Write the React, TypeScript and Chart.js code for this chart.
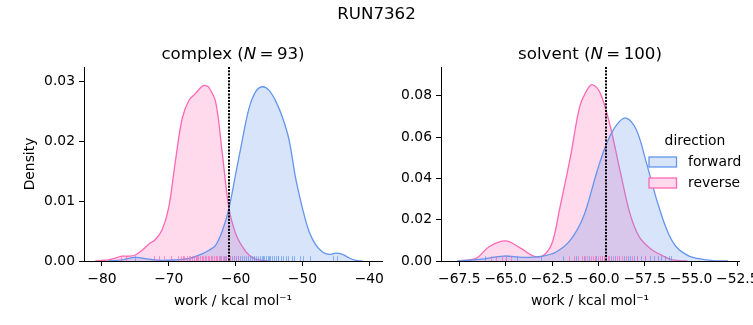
import React, { useEffect, useRef } from "react";
import { Chart, registerables } from "chart.js";

Chart.register(...registerables);

const FONT = "'DejaVu Sans', sans-serif";
const SUPTITLE = "RUN7362";
const X_LABEL = "work / kcal mol\u207B\u00B9";
const Y_LABEL = "Density";
const LEGEND_TITLE = "direction";
const DIRECTIONS = ["forward", "reverse"];
const LINE_COLORS = ["#6495ED", "#FF69B4"];
const FILL_COLORS = ["rgba(100,149,237,0.25)", "rgba(255,105,180,0.25)"];
const RUG_COLORS = ["rgba(100,149,237,0.7)", "rgba(255,105,180,0.7)"];

// ---------- complex panel ----------
const complexName = "complex";
const complexN = 93;
const complexFwdX = [-79, -77, -75, -73, -71, -69, -67, -65, -64, -63, -62, -61, -60, -59, -58, -57, -56, -55, -54, -53, -52, -51, -50, -49, -48, -47, -46, -45, -44, -43, -42, -41];
const complexFwdY = [0, 0.0002, 0.0006, 0.0003, 0.0001, 0.0002, 0.0004, 0.0012, 0.0018, 0.0026, 0.005, 0.0088, 0.0145, 0.0202, 0.0255, 0.0283, 0.0291, 0.0285, 0.0267, 0.024, 0.0202, 0.0137, 0.0088, 0.0049, 0.0027, 0.0015, 0.0011, 0.0013, 0.0011, 0.0005, 0.0001, 0];
const complexRevX = [-81, -80, -79, -78, -77, -76, -75, -74, -73, -72, -71, -70, -69, -68, -67, -66, -65, -64.5, -64, -63, -62, -61, -60, -59, -58, -57, -56, -55];
const complexRevY = [0, 0.0001, 0.0002, 0.0005, 0.0008, 0.0008, 0.001, 0.0018, 0.0028, 0.0036, 0.0052, 0.009, 0.0168, 0.0238, 0.0268, 0.028, 0.0292, 0.0293, 0.029, 0.0266, 0.018, 0.0088, 0.0046, 0.0024, 0.001, 0.0003, 0.0001, 0];
const complexFwdRug = [-75.1, -62.4, -61.8, -61.5, -60.9, -60.6, -60.2, -59.9, -59.7, -59.3, -59.0, -58.8, -58.4, -58.1, -57.9, -57.6, -57.3, -57.2, -56.9, -56.7, -56.4, -56.1, -55.9, -55.8, -55.5, -55.2, -55.0, -54.8, -54.5, -54.3, -54.0, -53.7, -53.6, -53.2, -52.9, -52.5, -52.1, -51.6, -51.2, -50.4, -49.9, -48.8, -45.4, -44.9];
const complexRevRug = [-77.2, -76.4, -72.2, -71.5, -70.7, -69.6, -68.6, -68.2, -67.9, -67.7, -67.3, -67.0, -66.8, -66.5, -66.3, -66.0, -65.8, -65.6, -65.3, -65.1, -64.9, -64.6, -64.4, -64.2, -64.0, -63.7, -63.5, -63.3, -63.0, -62.8, -62.5, -62.2, -61.9, -61.6, -61.4, -61.1, -60.8, -60.3, -59.6];
const complexDivider = -61.0;
const complexXTicks = [-80, -70, -60, -50, -40];
const complexXTickLabels = ["\u221280", "\u221270", "\u221260", "\u221250", "\u221240"];
const complexYTicks = [0, 0.01, 0.02, 0.03];
const complexYTickLabels = ["0.00", "0.01", "0.02", "0.03"];
const complexXMin = -82.69;
const complexXMax = -38.1;
const complexYMax = 0.0324;

// ---------- solvent panel ----------
const solventName = "solvent";
const solventN = 100;
const solventFwdX = [-67.6, -66.4, -65.1, -64.1, -63.0, -62.25, -61.5, -60.8, -60.1, -59.55, -59.0, -58.5, -57.95, -57.4, -56.85, -56.3, -55.8, -55.1, -54.35, -53.6, -53.0];
const solventFwdY = [0, 0.0008, 0.0024, 0.0018, 0.0024, 0.0045, 0.0102, 0.0215, 0.0425, 0.057, 0.066, 0.0692, 0.0635, 0.0474, 0.0296, 0.015, 0.0069, 0.0024, 0.0008, 0.0001, 0];
const solventRevX = [-67.6, -66.6, -65.9, -65.0, -64.2, -63.5, -63.0, -62.5, -62.1, -61.5, -61.0, -60.55, -60.3, -59.9, -59.4, -58.8, -58.3, -57.8, -57.2, -56.5, -56.0, -55.2];
const solventRevY = [0, 0.0013, 0.0069, 0.0097, 0.0062, 0.0024, 0.0025, 0.0086, 0.0247, 0.0506, 0.0748, 0.0837, 0.0853, 0.0813, 0.0668, 0.0425, 0.0231, 0.0118, 0.0061, 0.0024, 0.0005, 0];
const solventFwdRug = [-66.1, -65.0, -64.4, -63.1, -61.9, -61.2, -60.8, -60.5, -60.1, -59.8, -59.6, -59.3, -59.1, -58.9, -58.6, -58.4, -58.3, -58.1, -57.9, -57.7, -57.5, -57.2, -57.0, -56.8, -56.6, -56.4, -56.2, -56.1];
const solventRevRug = [-65.8, -65.5, -65.2, -65.0, -64.7, -61.6, -61.3, -61.1, -60.9, -60.7, -60.6, -60.4, -60.3, -60.2, -60.0, -59.9, -59.8, -59.7, -59.5, -59.4, -59.2, -59.0, -58.9, -58.7, -58.5, -58.2, -57.9, -57.5];
const solventDivider = -59.6;
const solventXTicks = [-67.5, -65, -62.5, -60, -57.5, -55, -52.5];
const solventXTickLabels = ["\u221267.5", "\u221265.0", "\u221262.5", "\u221260.0", "\u221257.5", "\u221255.0", "\u221252.5"];
const solventYTicks = [0, 0.02, 0.04, 0.06, 0.08];
const solventYTickLabels = ["0.00", "0.02", "0.04", "0.06", "0.08"];
const solventXMin = -68.49;
const solventXMax = -52.41;
const solventYMax = 0.0939;

const toPoints = (xs: number[], ys: number[]) => xs.map((x, i) => ({ x, y: ys[i] }));

const decorPlugin = {
  id: "decor",
  afterDatasetsDraw(chart: any, _args: any, opts: any) {
    const { ctx, chartArea, scales } = chart;
    const { left, right, top, bottom } = chartArea;
    const xs = scales.x;
    const h = (bottom - top) * 0.025;
    ctx.save();
    ctx.beginPath();
    ctx.rect(left, top, right - left, bottom - top);
    ctx.clip();
    ctx.lineWidth = 1;
    (opts.rugs || []).forEach((vals: number[], k: number) => {
      ctx.strokeStyle = RUG_COLORS[k];
      for (const v of vals) {
        const px = Math.round(xs.getPixelForValue(v)) + 0.5;
        ctx.beginPath();
        ctx.moveTo(px, bottom);
        ctx.lineTo(px, bottom - h);
        ctx.stroke();
      }
    });
    ctx.restore();
    // divider
    const dx = Math.round(xs.getPixelForValue(opts.divider));
    ctx.save();
    ctx.strokeStyle = "#000";
    ctx.lineWidth = 2;
    ctx.setLineDash([2, 1.3]);
    ctx.beginPath();
    ctx.moveTo(dx, top);
    ctx.lineTo(dx, bottom);
    ctx.stroke();
    ctx.restore();
  },
  afterDraw(chart: any, _args: any, opts: any) {
    const { ctx, chartArea } = chart;
    const { left, right, top } = chartArea;
    ctx.save();
    ctx.fillStyle = "#000";
    ctx.textBaseline = "alphabetic";
    const size = 16.67;
    const normal = `${size}px ${FONT}`;
    const italic = `italic ${size}px ${FONT}`;
    const parts: [string, string][] = [
      [`${opts.name} (`, normal],
      ["N", italic],
      ["\u2009=\u2009", normal],
      [`${opts.n})`, normal],
    ];
    let total = 0;
    for (const [t, f] of parts) {
      ctx.font = f;
      total += ctx.measureText(t).width;
    }
    let cx = (left + right) / 2 - total / 2;
    const ty = top - 8.5;
    ctx.textAlign = "left";
    for (const [t, f] of parts) {
      ctx.font = f;
      ctx.fillText(t, cx, ty);
      cx += ctx.measureText(t).width;
    }
    if (opts.suptitle) {
      ctx.font = normal;
      ctx.textAlign = "center";
      ctx.fillText(SUPTITLE, 376.5, 19);
    }
    if (opts.legend) {
      const fs = 13.89;
      ctx.font = `${fs}px ${FONT}`;
      ctx.textAlign = "center";
      ctx.textBaseline = "middle";
      const lx = right - 90;
      ctx.fillText(LEGEND_TITLE, lx + 46, 141);
      DIRECTIONS.forEach((d, k) => {
        const cy = 162 + k * 21;
        ctx.fillStyle = "#fff";
        ctx.fillRect(lx, cy - 5, 27.5, 10);
        ctx.fillStyle = FILL_COLORS[k];
        ctx.fillRect(lx, cy - 5, 27.5, 10);
        ctx.strokeStyle = LINE_COLORS[k];
        ctx.lineWidth = 1.3;
        ctx.strokeRect(lx, cy - 5, 27.5, 10);
        ctx.fillStyle = "#000";
        ctx.textAlign = "left";
        ctx.fillText(d, lx + 39, cy);
      });
    }
    ctx.restore();
  },
};

type Panel = {
  name: string;
  n: number;
  fwd: { x: number; y: number }[];
  rev: { x: number; y: number }[];
  rugs: number[][];
  divider: number;
  xTicks: number[];
  xTickLabels: string[];
  yTicks: number[];
  yTickLabels: string[];
  xMin: number;
  xMax: number;
  yMax: number;
  padLeft: number;
  padRight: number;
  yWidth: number;
  yLabel: boolean;
  legend: boolean;
  suptitle: boolean;
};

function makeConfig(p: Panel): any {
  const tickFont = { family: FONT, size: 13.89 };
  const ds = (k: number, data: any) => ({
    label: DIRECTIONS[k],
    data,
    borderColor: LINE_COLORS[k],
    backgroundColor: FILL_COLORS[k],
    fill: "origin",
    borderWidth: 1.3,
    pointRadius: 0,
    tension: 0.35,
  });
  return {
    type: "line",
    data: { datasets: [ds(0, p.fwd), ds(1, p.rev)] },
    options: {
      responsive: false,
      animation: false,
      devicePixelRatio: 1,
      layout: { padding: { left: p.padLeft, right: p.padRight, top: 67, bottom: 0 } },
      plugins: {
        legend: { display: false },
        tooltip: { enabled: false },
        decor: {
          name: p.name,
          n: p.n,
          rugs: p.rugs,
          divider: p.divider,
          legend: p.legend,
          suptitle: p.suptitle,
        },
      },
      scales: {
        x: {
          type: "linear",
          min: p.xMin,
          max: p.xMax,
          afterBuildTicks: (s: any) => {
            s.ticks = p.xTicks.map((v) => ({ value: v }));
          },
          afterFit: (s: any) => {
            s.height = 64;
            s.paddingLeft = 0;
            s.paddingRight = 0;
          },
          grid: { drawOnChartArea: false, drawTicks: true, tickLength: 5, tickWidth: 1, tickColor: "#000" },
          border: { display: true, color: "#000", width: 1 },
          ticks: {
            font: tickFont,
            color: "#000",
            padding: 5,
            maxRotation: 0,
            autoSkip: false,
            callback: (_v: any, i: number) => p.xTickLabels[i],
          },
          title: {
            display: true,
            text: X_LABEL,
            color: "#000",
            font: tickFont,
            padding: { top: 0, bottom: 15.5 },
          },
        },
        y: {
          type: "linear",
          min: 0,
          max: p.yMax,
          afterBuildTicks: (s: any) => {
            s.ticks = p.yTicks.map((v) => ({ value: v }));
          },
          afterFit: (s: any) => {
            s.width = p.yWidth;
          },
          grid: { drawOnChartArea: false, drawTicks: true, tickLength: 5, tickWidth: 1, tickColor: "#000" },
          border: { display: true, color: "#000", width: 1 },
          ticks: {
            font: tickFont,
            color: "#000",
            padding: 4,
            autoSkip: false,
            callback: (_v: any, i: number) => p.yTickLabels[i],
          },
          title: {
            display: p.yLabel,
            text: Y_LABEL,
            color: "#000",
            font: tickFont,
            padding: { top: 22.2, bottom: 0 },
          },
        },
      },
    },
    plugins: [decorPlugin],
  };
}

const panels: Panel[] = [
  {
    name: complexName,
    n: complexN,
    fwd: toPoints(complexFwdX, complexFwdY),
    rev: toPoints(complexRevX, complexRevY),
    rugs: [complexFwdRug, complexRevRug],
    divider: complexDivider,
    xTicks: complexXTicks,
    xTickLabels: complexXTickLabels,
    yTicks: complexYTicks,
    yTickLabels: complexYTickLabels,
    xMin: complexXMin,
    xMax: complexXMax,
    yMax: complexYMax,
    padLeft: 0,
    padRight: 371,
    yWidth: 84,
    yLabel: true,
    legend: false,
    suptitle: true,
  },
  {
    name: solventName,
    n: solventN,
    fwd: toPoints(solventFwdX, solventFwdY),
    rev: toPoints(solventRevX, solventRevY),
    rugs: [solventFwdRug, solventRevRug],
    divider: solventDivider,
    xTicks: solventXTicks,
    xTickLabels: solventXTickLabels,
    yTicks: solventYTicks,
    yTickLabels: solventYTickLabels,
    xMin: solventXMin,
    xMax: solventXMax,
    yMax: solventYMax,
    padLeft: 381,
    padRight: 14,
    yWidth: 60,
    yLabel: false,
    legend: true,
    suptitle: false,
  },
];

export default function App() {
  const ref1 = useRef<HTMLCanvasElement>(null);
  const ref2 = useRef<HTMLCanvasElement>(null);
  useEffect(() => {
    const charts = [ref1, ref2].map((r, i) => new Chart(r.current as HTMLCanvasElement, makeConfig(panels[i])));
    return () => charts.forEach((c) => c.destroy());
  }, []);
  const cs: React.CSSProperties = { position: "absolute", left: 0, top: 0, width: 753, height: 325 };
  return (
    <div style={{ position: "absolute", left: 0, top: 0, width: 753, height: 325, background: "#fff", overflow: "hidden" }}>
      <canvas ref={ref1} width={753} height={325} style={cs} />
      <canvas ref={ref2} width={753} height={325} style={cs} />
    </div>
  );
}
